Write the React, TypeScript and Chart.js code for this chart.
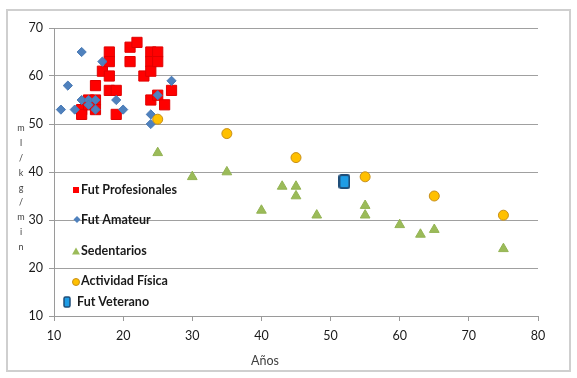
import React, { useEffect, useRef } from 'react';
import { Chart, registerables } from 'chart.js';

Chart.register(...registerables);

// ---- data ----
const profesionalesEdad = [14, 14, 15, 16, 15, 16, 16, 17, 18, 18, 18, 18, 19, 19, 21, 21, 22, 23, 24, 24, 24, 24, 25, 25, 25, 26, 27];
const profesionalesVO2 = [53, 52, 55, 55, 54, 53, 58, 61, 65, 63, 60, 57, 57, 52, 66, 63, 67, 60, 65, 63, 61, 55, 65, 63, 56, 54, 57];

const amateurEdad = [11, 12, 13, 14, 14, 15, 15, 16, 16, 17, 19, 20, 24, 24, 25, 27];
const amateurVO2 = [53, 58, 53, 65, 55, 55, 54, 55, 53, 63, 55, 53, 52, 50, 56, 59];

const sedentariosEdad = [25, 30, 35, 40, 43, 45, 45, 48, 55, 55, 60, 63, 65, 75];
const sedentariosVO2 = [44, 39, 40, 32, 37, 37, 35, 31, 33, 31, 29, 27, 28, 24];

const actividadEdad = [25, 35, 45, 55, 65, 75];
const actividadVO2 = [51, 48, 43, 39, 35, 31];

const veteranoEdad = [52];
const veteranoVO2 = [38];

const seriesLabels = ['Fut Profesionales', 'Fut Amateur', 'Sedentarios', 'Actividad Física', 'Fut Veterano'];
const xTitle = 'Años';
const yTitle = 'ml/kg/min';
const xMin = 10, xMax = 80, yMin = 10, yMax = 70, tickStep = 10;

const FONT = 'Lato, "Open Sans", sans-serif';

function pts(xs: number[], ys: number[]) {
  return xs.map((x, i) => ({ x, y: ys[i] }));
}

function veteranoImage() {
  const c = document.createElement('canvas');
  c.width = 12;
  c.height = 15;
  const g = c.getContext('2d')!;
  g.fillStyle = '#1e9de6';
  g.strokeStyle = '#1f4e79';
  g.lineWidth = 2;
  g.beginPath();
  (g as any).roundRect(1, 1, 10, 13, 2);
  g.fill();
  g.stroke();
  return c;
}

const decorPlugin = {
  id: 'decor',
  beforeDraw(chart: any) {
    const ctx = chart.ctx;
    ctx.save();
    ctx.fillStyle = '#ffffff';
    ctx.fillRect(0, 0, chart.width, chart.height);
    ctx.strokeStyle = '#cfcfcf';
    ctx.lineWidth = 2;
    ctx.strokeRect(7, 10, 563, 361);
    ctx.restore();
  },
  afterDraw(chart: any) {
    const ctx = chart.ctx;
    ctx.save();
    // y title: stacked characters
    ctx.fillStyle = '#404040';
    ctx.font = `9px ${FONT}`;
    ctx.textAlign = 'center';
    ctx.textBaseline = 'middle';
    const chars = yTitle.split('');
    chars.forEach((ch, i) => {
      ctx.fillText(ch, 21, 128.5 + i * 14.8);
    });
    // x title
    ctx.font = `12.5px ${FONT}`;
    ctx.fillText(xTitle, 265, 361);

    // legend
    const rows = [
      { y: 190, tx: 81 },
      { y: 219.5, tx: 81 },
      { y: 251, tx: 81 },
      { y: 281, tx: 81 },
      { y: 302, tx: 77 },
    ];
    // markers
    ctx.fillStyle = '#ff0000';
    ctx.fillRect(73, 187, 6, 6);
    ctx.fillStyle = '#4f81bd';
    ctx.beginPath();
    ctx.moveTo(77, 216);
    ctx.lineTo(80.5, 219.5);
    ctx.lineTo(77, 223);
    ctx.lineTo(73.5, 219.5);
    ctx.closePath();
    ctx.fill();
    ctx.fillStyle = '#9bbb59';
    ctx.beginPath();
    ctx.moveTo(76, 247.5);
    ctx.lineTo(80, 254.5);
    ctx.lineTo(72, 254.5);
    ctx.closePath();
    ctx.fill();
    ctx.fillStyle = '#ffc000';
    ctx.strokeStyle = '#c8901a';
    ctx.lineWidth = 1;
    ctx.beginPath();
    ctx.arc(76, 282, 3.5, 0, Math.PI * 2);
    ctx.fill();
    ctx.stroke();
    ctx.fillStyle = '#1e9de6';
    ctx.strokeStyle = '#1f4e79';
    ctx.lineWidth = 1.5;
    ctx.beginPath();
    (ctx as any).roundRect(64, 297, 6, 10, 1.5);
    ctx.fill();
    ctx.stroke();

    ctx.fillStyle = '#1a1a1a';
    ctx.font = `bold 12.5px ${FONT}`;
    ctx.textAlign = 'left';
    ctx.textBaseline = 'middle';
    seriesLabels.forEach((t, i) => {
      ctx.fillText(t, rows[i].tx, rows[i].y);
    });
    ctx.restore();
  },
};

export default function App() {
  const ref = useRef<HTMLCanvasElement>(null);

  useEffect(() => {
    document.body.style.margin = '0';
    const canvas = ref.current!;
    const chart = new Chart(canvas, {
      type: 'scatter',
      data: {
        datasets: [
          {
            label: seriesLabels[0],
            data: pts(profesionalesEdad, profesionalesVO2),
            pointStyle: 'rect',
            pointRadius: 7.2,
            backgroundColor: '#ff0000',
            borderColor: '#e00000',
            borderWidth: 1,
            order: 5,
          },
          {
            label: seriesLabels[1],
            data: pts(amateurEdad, amateurVO2),
            pointStyle: 'rectRot',
            pointRadius: 4.6,
            backgroundColor: '#4f81bd',
            borderColor: '#4a7ab5',
            borderWidth: 1,
            order: 4,
          },
          {
            label: seriesLabels[2],
            data: pts(sedentariosEdad, sedentariosVO2),
            pointStyle: 'triangle',
            pointRadius: 5.6,
            backgroundColor: '#9bbb59',
            borderColor: '#93b353',
            borderWidth: 1,
            order: 3,
          },
          {
            label: seriesLabels[3],
            data: pts(actividadEdad, actividadVO2),
            pointStyle: 'circle',
            pointRadius: 5,
            backgroundColor: '#ffc000',
            borderColor: '#c8901a',
            borderWidth: 1,
            order: 2,
          },
          {
            label: seriesLabels[4],
            data: pts(veteranoEdad, veteranoVO2),
            pointStyle: veteranoImage() as any,
            pointRadius: 6,
            order: 1,
          },
        ],
      },
      options: {
        responsive: false,
        animation: false,
        layout: { padding: { left: 0, right: 39, top: 28, bottom: 0 } },
        plugins: {
          legend: { display: false },
          tooltip: { enabled: false },
          title: { display: false },
        },
        scales: {
          x: {
            type: 'linear',
            min: xMin,
            max: xMax,
            afterFit: (s: any) => {
              s.height = 62;
            },
            ticks: {
              stepSize: tickStep,
              padding: 7,
              color: '#1a1a1a',
              font: { family: FONT, size: 12.5 },
            },
            grid: {
              drawOnChartArea: false,
              drawTicks: true,
              tickLength: 5,
              tickColor: '#9a9a9a',
            },
            border: { color: '#9a9a9a', width: 1 },
          },
          y: {
            type: 'linear',
            min: yMin,
            max: yMax,
            afterFit: (s: any) => {
              s.width = 54;
            },
            ticks: {
              stepSize: tickStep,
              padding: 6,
              color: '#1a1a1a',
              font: { family: FONT, size: 12.5 },
            },
            grid: {
              color: '#a0a0a0',
              lineWidth: 1,
              drawTicks: true,
              tickLength: 5,
              tickColor: '#9a9a9a',
            },
            border: { color: '#9a9a9a', width: 1 },
          },
        },
      },
      plugins: [decorPlugin],
    });
    return () => chart.destroy();
  }, []);

  return (
    <div style={{ position: 'absolute', left: 0, top: 0, width: 577, height: 378 }}>
      <canvas ref={ref} width={577} height={378} style={{ width: 577, height: 378, display: 'block' }} />
    </div>
  );
}
